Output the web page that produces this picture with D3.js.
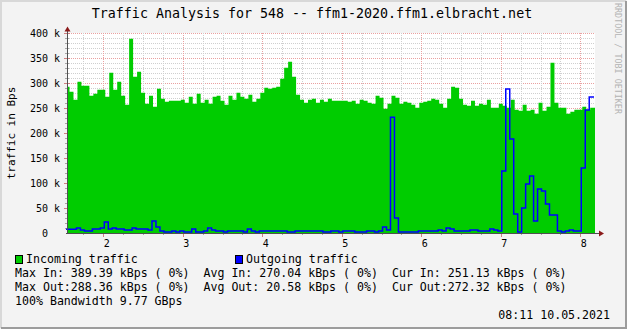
<!doctype html>
<html>
<head>
<script src="https://d3js.org/d3.v7.min.js"></script>
<style>
  body { margin: 0; background: #f3f3f3; }
  text { font-family: "DejaVu Sans Mono", monospace; white-space: pre; }
</style>
</head>
<body>
<div id="chart"></div>
<script>
// values, kBps per time step (first one is a partial step)
var incoming = [293, 283, 267, 303, 295, 295, 275, 279, 287, 287, 273, 321, 287, 303, 275, 257, 389, 313, 323, 281,
  259, 275, 253, 289, 269, 263, 265, 265, 265, 267, 261, 273, 259, 279, 261, 267, 259, 273, 275, 265,
  257, 275, 267, 281, 273, 269, 277, 263, 269, 281, 291, 289, 291, 293, 309, 331, 343, 313, 277, 267,
  261, 267, 269, 261, 267, 263, 269, 265, 265, 265, 265, 263, 265, 259, 267, 265, 261, 259, 275, 271,
  249, 259, 275, 271, 259, 263, 261, 257, 251, 261, 263, 265, 269, 267, 259, 251, 269, 293, 291, 269,
  257, 255, 265, 255, 259, 257, 267, 251, 251, 259, 255, 251, 267, 247, 245, 257, 245, 247, 239, 261,
  245, 253, 341, 261, 251, 251, 239, 243, 247, 247, 253, 247, 251];
var outgoing = [8, 8, 8, 10.6, 6.6, 4.6, 4.6, 8.6, 8.6, 10.6, 22.6, 8.6, 10.6, 8.6, 8.6, 6.6, 6.6, 10.6, 8.6, 8.6,
  8.6, 6.6, 24.6, 12.6, 4.6, 2.6, 2.6, 4.6, 2.6, 4.6, 2.6, 2.6, 8.6, 2.6, 2.6, 4.6, 10.6, 6.6, 4.6, 4.6,
  2.6, 4.6, 4.6, 4.6, 4.6, 2.6, 8.6, 4.6, 2.6, 4.6, 4.6, 4.6, 4.6, 4.6, 4.6, 4.6, 2.6, 2.6, 4.6, 4.6,
  4.6, 4.6, 4.6, 4.6, 4.6, 2.6, 2.6, 4.6, 4.6, 2.6, 4.6, 4.6, 4.6, 2.6, 2.6, 2.6, 4.6, 4.6, 2.6, 4.6,
  12.6, 6.6, 232, 30.6, 2.6, 2.6, 2.6, 2.6, 2.6, 4.6, 4.6, 4.6, 4.6, 4.6, 6.6, 4.6, 10.6, 8.6, 4.6, 4.6,
  4.6, 4.6, 6.6, 6.6, 4.6, 4.6, 4.6, 8.6, 6.6, 4.6, 124.6, 288.6, 188.6, 38.6, 2.6, 50.6, 98.6, 114.6, 24.6, 88.6,
  84.6, 58.6, 36.6, 36.6, 4.6, 2.6, 4.6, 6.6, 4.6, 4.6, 130.6, 246.6, 272.6];
var xTickLabels = [2, 3, 4, 5, 6, 7, 8];
var yTickLabels = ["0  ", "50 k", "100 k", "150 k", "200 k", "250 k", "300 k", "350 k", "400 k"];
var legendRows = [
  "Max In: 389.39 kBps ( 0%)  Avg In: 270.04 kBps ( 0%)  Cur In: 251.13 kBps ( 0%)",
  "Max Out:288.36 kBps ( 0%)  Avg Out: 20.58 kBps ( 0%)  Cur Out:272.32 kBps ( 0%)",
  "100% Bandwidth 9.77 GBps"
];

var W = 627, H = 329;
var svg = d3.select("#chart").append("svg").attr("width", W).attr("height", H);

// frame
svg.append("rect").attr("width", W).attr("height", H).attr("fill", "#f3f3f3");
svg.append("path").attr("d", "M1,328 V1 H626").attr("fill", "none").attr("stroke", "#d8d8d8").attr("stroke-width", 2);
svg.append("path").attr("d", "M1,328 H626 V1").attr("fill", "none").attr("stroke", "#9c9c9c").attr("stroke-width", 2);

var x = d3.scaleLinear().domain([1.5434, 8.185]).range([67, 595]);
var y = d3.scaleLinear().domain([0, 400]).range([233.3, 33.3]);

// canvas
svg.append("rect").attr("x", 67).attr("y", 33).attr("width", 528).attr("height", 200).attr("fill", "#ffffff");

// grid
var grid = svg.append("g");
d3.range(10, 401, 10).forEach(function(v) {
  var major = v % 50 == 0;
  grid.append("line").attr("x1", 67).attr("x2", 595).attr("y1", Math.round(y(v)) + 0.5).attr("y2", Math.round(y(v)) + 0.5)
    .attr("stroke", major ? "#eaa0a0" : "#cfcfcf").attr("stroke-dasharray", "1,1");
  grid.append("line").attr("x1", major ? 64 : 65).attr("x2", major ? 70 : 69).attr("y1", Math.round(y(v)) + 0.5).attr("y2", Math.round(y(v)) + 0.5)
    .attr("stroke", major ? "#d08080" : "#a8a8a8");
});
d3.range(1.75, 8.2, 0.25).forEach(function(t) {
  var major = Math.abs(t - Math.round(t)) < 1e-6;
  var px = Math.round(x(t)) + 0.5;
  grid.append("line").attr("x1", px).attr("x2", px).attr("y1", 33).attr("y2", 233)
    .attr("stroke", major ? "#eaa0a0" : "#cfcfcf").attr("stroke-dasharray", "1,1");
  grid.append("line").attr("x1", px).attr("x2", px).attr("y1", major ? 230 : 231).attr("y2", major ? 237 : 235)
    .attr("stroke", major ? "#d08080" : "#a8a8a8");
});

// data as steps
var firstEdge = 1.575, step = 0.05;
function steps(vals) {
  var pts = vals.map(function(v, i) {
    return { t: i == 0 ? x.domain()[0] : firstEdge + step * (i - 1), v: v };
  });
  pts.push({ t: x.domain()[1], v: vals[vals.length - 1] });
  return pts;
}

var area = d3.area().curve(d3.curveStepAfter)
  .x(function(d) { return x(d.t); })
  .y0(y(0))
  .y1(function(d) { return y(d.v); });
svg.append("path").datum(steps(incoming)).attr("d", area).attr("fill", "#00cc00");

var line = d3.line().curve(d3.curveStepAfter)
  .x(function(d) { return x(d.t) - 1; })
  .y(function(d) { return y(d.v); });
svg.append("path").datum(steps(outgoing)).attr("d", line)
  .attr("fill", "none").attr("stroke", "#0000ff").attr("stroke-width", 1.5);

// axes
svg.append("line").attr("x1", 67.5).attr("x2", 67.5).attr("y1", 234).attr("y2", 31).attr("stroke", "#505050");
svg.append("line").attr("x1", 66).attr("x2", 599).attr("y1", 233.5).attr("y2", 233.5).attr("stroke", "#505050");
svg.append("path").attr("d", "M64.5,31.5 L67.5,26.5 L70.5,31.5 Z").attr("fill", "#8b1a1a");
svg.append("path").attr("d", "M599,230.5 L604,233.5 L599,236.5 Z").attr("fill", "#8b1a1a");

// tick labels
svg.selectAll(".ylab").data(yTickLabels).enter().append("text")
  .attr("x", 60).attr("y", function(d, i) { return y(i * 50) + 3.5; })
  .attr("text-anchor", "end").attr("font-size", 10).attr("fill", "#000")
  .text(function(d) { return d; });
svg.selectAll(".xlab").data(xTickLabels).enter().append("text")
  .attr("x", function(d) { return x(d) + 3.4; }).attr("y", 247)
  .attr("text-anchor", "middle").attr("font-size", 10).attr("fill", "#000")
  .text(function(d) { return d; });

// titles
svg.append("text").attr("x", 312).attr("y", 18).attr("text-anchor", "middle").attr("font-size", 13.3)
  .text("Traffic Analysis for 548 -- ffm1-2020.ffm1.elbracht.net");
svg.append("text").attr("transform", "translate(15,133) rotate(-90)").attr("text-anchor", "middle").attr("font-size", 11)
  .text("traffic in Bps");
svg.append("text").attr("transform", "translate(614.5,3) rotate(90)").attr("font-size", 8.4).attr("fill", "#b4b4b4")
  .text("RRDTOOL / TOBI OETIKER");

// legend
var legend = [["Incoming traffic", "#00cc00", 15], ["Outgoing traffic", "#0000ff", 235]];
legend.forEach(function(l) {
  svg.append("rect").attr("x", l[2] + 0.5).attr("y", 255.5).attr("width", 7).attr("height", 8)
    .attr("fill", l[1]).attr("stroke", "#000");
  svg.append("text").attr("x", l[2] + 11).attr("y", 263).attr("font-size", 11.6).text(l[0]);
});
legendRows.forEach(function(r, i) {
  svg.append("text").attr("x", 15).attr("y", 277 + i * 14).attr("font-size", 11.6).text(r);
});
svg.append("text").attr("x", 610).attr("y", 319).attr("text-anchor", "end").attr("font-size", 11.6)
  .text("08:11 10.05.2021");
</script>
</body>
</html>
